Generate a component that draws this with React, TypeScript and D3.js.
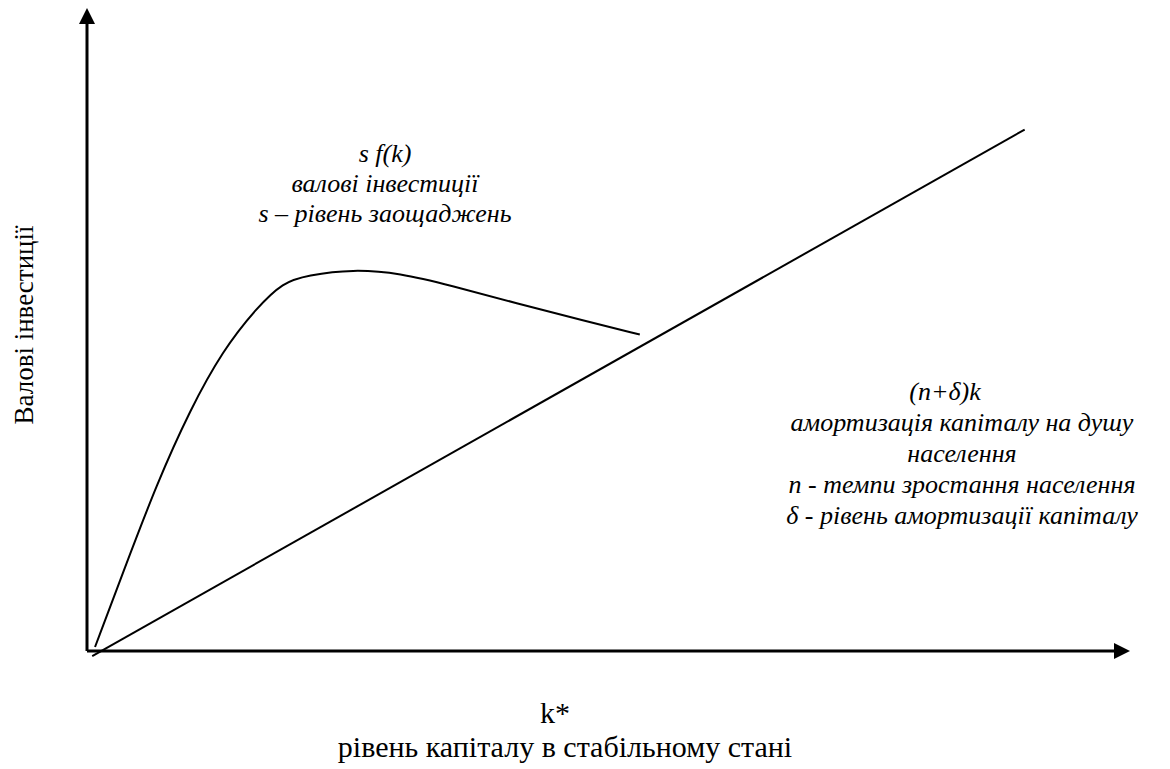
import React from "react";
import * as d3 from "d3";

// s f(k) curve (k, investment)
const savingsK = [0.077, 0.345, 0.671, 0.988, 1.3, 1.63, 1.88, 2.11, 2.55, 3.0, 3.48, 4.12, 4.76, 5.3];
const savingsY = [0.04, 0.78, 1.67, 2.4, 2.99, 3.42, 3.67, 3.74, 3.8, 3.76, 3.64, 3.46, 3.29, 3.15];

// (n + delta) k line
const deprK = [0.05, 8.99];
const deprY = [-0.05, 5.19];

const kMax = 10;
const yMax = 6.4;

const topLabels = ["s f(k)", "валові інвестиції", "s – рівень заощаджень"];
const rightLabels = [
  "(n+δ)k",
  "амортизація капіталу на душу",
  "населення",
  "n - темпи зростання населення",
  "δ - рівень амортизації капіталу",
];
const yTitle = "Валові інвестиції";
const xTitle = ["k*", "рівень капіталу в стабільному стані"];

const width = 1170;
const height = 769;
const serif = '"Liberation Serif", "DejaVu Serif", "Times New Roman", serif';

export default function App() {
  const x = d3.scaleLinear().domain([0, kMax]).range([87, 1130]);
  const y = d3.scaleLinear().domain([0, yMax]).range([651, 8]);

  const curve = d3
    .line<number>()
    .x((k) => x(k))
    .y((_, i) => y(savingsY[i]))
    .curve(d3.curveBasis);

  const straight = d3
    .line<number>()
    .x((k) => x(k))
    .y((_, i) => y(deprY[i]));

  return (
    <svg
      width={width}
      height={height}
      style={{ position: "absolute", left: 0, top: 0, background: "#fff", fontFamily: serif }}
    >
      {/* axes */}
      <line x1={x(0)} y1={y(0)} x2={x(kMax) - 14} y2={y(0)} stroke="#000" strokeWidth={3} />
      <line x1={x(0)} y1={y(0)} x2={x(0)} y2={y(yMax) + 14} stroke="#000" strokeWidth={3} />
      <path
        d={`M${x(kMax)},${y(0)} L${x(kMax) - 16},${y(0) - 8} L${x(kMax) - 16},${y(0) + 8} Z`}
        fill="#000"
      />
      <path
        d={`M${x(0)},${y(yMax)} L${x(0) - 8},${y(yMax) + 16} L${x(0) + 8},${y(yMax) + 16} Z`}
        fill="#000"
      />

      <path d={curve(savingsK) || ""} fill="none" stroke="#000" strokeWidth={2} />
      <path d={straight(deprK) || ""} fill="none" stroke="#000" strokeWidth={2} />

      {/* annotations */}
      <g fontStyle="italic" fontSize={26} textAnchor="middle" style={{ fontFamily: serif }}>
        {topLabels.map((t, i) => (
          <text key={i} x={385} y={162 + i * 30}>
            {t}
          </text>
        ))}
        {rightLabels.map((t, i) => (
          <text key={i} x={i === 0 ? 945 : 962} y={400 + i * 31}>
            {t}
          </text>
        ))}
      </g>

      <text
        transform={`translate(33,${325}) rotate(-90)`}
        textAnchor="middle"
        fontSize={27}
        style={{ fontFamily: serif }}
      >
        {yTitle}
      </text>
      <g textAnchor="middle" fontSize={30} style={{ fontFamily: serif }}>
        <text x={555} y={723}>
          {xTitle[0]}
        </text>
        <text x={565} y={757}>
          {xTitle[1]}
        </text>
      </g>
    </svg>
  );
}
